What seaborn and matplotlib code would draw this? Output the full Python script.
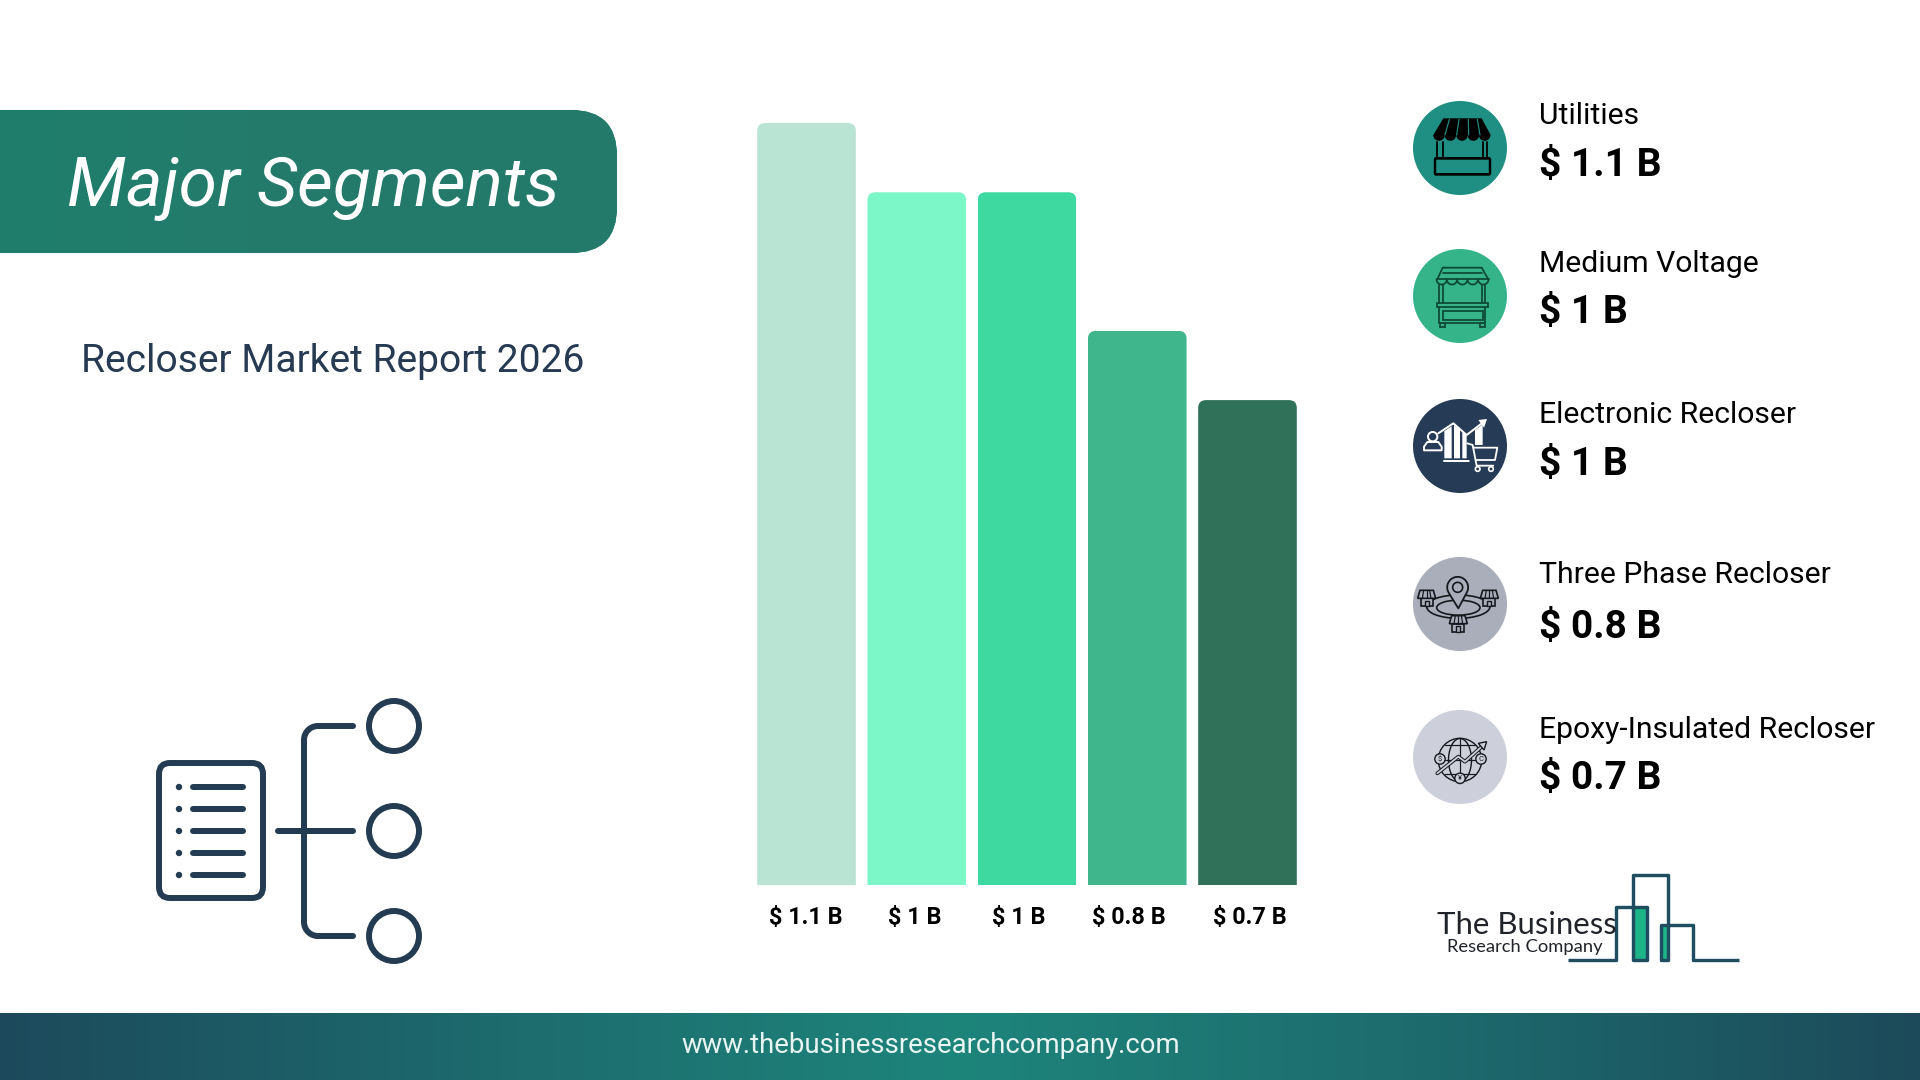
import numpy as np
import pandas as pd
import matplotlib
matplotlib.use("Agg")
import matplotlib.pyplot as plt
from matplotlib.patches import Circle, Ellipse, FancyBboxPatch, Polygon, Rectangle, Wedge
import seaborn as sns

# Chart data
segments = ["Utilities", "Medium Voltage", "Electronic Recloser", "Three Phase Recloser", "Epoxy-Insulated Recloser"]
values = [1.1, 1.0, 1.0, 0.8, 0.7]
value_labels = ["$ 1.1 B", "$ 1 B", "$ 1 B", "$ 0.8 B", "$ 0.7 B"]
bar_colors = ["#B9E4D4", "#7BF7C8", "#3DD9A0", "#3FB68B", "#2F7159"]
circle_colors = ["#1F8F84", "#35B489", "#263C56", "#A9AEBA", "#CDD0DA"]

NAVY = "#233C52"
LOGO = "#1E4E5F"

sns.set_theme(style="white")
plt.rcParams["font.family"] = ["Roboto", "DejaVu Sans"]

fig = plt.figure(figsize=(19.2, 10.8), dpi=100, facecolor="white")

# Background layer, coordinates are the pixels of the slide
bg = fig.add_axes([0, 0, 1, 1], zorder=0)
bg.set_xlim(0, 1920)
bg.set_ylim(1080, 0)
bg.axis("off")


def line(pts, color=NAVY, lw=6, cap="round", zorder=2):
    xs, ys = zip(*pts)
    bg.plot(xs, ys, color=color, lw=lw * 0.72, solid_capstyle=cap, solid_joinstyle="round", zorder=zorder)


def rbox(x, y, w, h, r, **kw):
    p = FancyBboxPatch((x, y), w, h, boxstyle=f"round,pad=0,rounding_size={r}", **kw)
    bg.add_patch(p)
    return p


def gradient(x0, x1, y0, y1, colors, clip=None):
    cmap = matplotlib.colors.LinearSegmentedColormap.from_list("g", colors)
    im = bg.imshow(np.linspace(0, 1, 256)[None, :], cmap=cmap, extent=(x0, x1, y1, y0), aspect="auto", zorder=1)
    if clip is not None:
        im.set_clip_path(clip)
    bg.set_xlim(0, 1920)
    bg.set_ylim(1080, 0)


def arc(cx, cy, r, a0, a1):
    a = np.radians(np.linspace(a0, a1, 20))
    return list(zip(cx + r * np.cos(a), cy + r * np.sin(a)))


def crop(x0, y0):
    return lambda x, y: (x0 + x / 3, y0 + y / 3)


# Title banner
banner = rbox(-80, 110, 697, 143, 46, fc="#237B6B", ec="none", zorder=1)
gradient(0, 620, 110, 253, ["#1F7F6C", "#247A6B", "#237A6A"], clip=banner)
bg.text(67, 206, "Major Segments", color="white", fontsize=50, style="italic", zorder=3)
bg.text(81, 372, "Recloser Market Report 2026", color="#263A52", fontsize=28.1)

# Footer
gradient(0, 1920, 1013, 1080, ["#1C4A5C", "#1D6A6D", "#1E857B", "#1D6A6D", "#1C4A5A"])
bg.text(931, 1053, "www.thebusinessresearchcompany.com", color="#E8F4F2", fontsize=19.8, ha="center", zorder=3)

# Document and tree icon
rbox(159, 763, 104, 135, 11, fc="none", ec=NAVY, lw=4.3)
for y in [787, 809, 831, 853, 875]:
    bg.add_patch(Circle((179, y), 3.2, fc=NAVY, ec="none"))
    line([(193, y), (243, y)])
line([(278, 831), (353, 831)])
line([(353, 726)] + arc(318, 740, 14, 270, 180) + arc(318, 922, 14, 180, 90) + [(353, 936)])
for y in [726, 831, 936]:
    bg.add_patch(Circle((394, y), 25, fc="none", ec=NAVY, lw=4.3))

# Bar chart
df = pd.DataFrame({"segment": segments, "value": values})
ax = fig.add_axes([751.4 / 1920, (1080 - 885) / 1080, 551.2 / 1920, 762 / 1080], zorder=2)
ax.patch.set_alpha(0)
sns.barplot(data=df, x="segment", y="value", hue="segment", palette=bar_colors, width=0.895,
            legend=False, saturation=1, ax=ax)
ax.set_xlim(-0.5, 4.5)
ax.set_ylim(0, 1.1)
sns.despine(ax=ax, left=True, bottom=True)
ax.set_xlabel("")
ax.set_ylabel("")
ax.set_yticks([])

# Labels do not sit exactly under the bars in the original
label_shift = [-1, -2, -8, -8, 2]
ax.set_xticks([i + s / 110.25 for i, s in enumerate(label_shift)])
ax.set_xticklabels(value_labels, fontsize=16.8, fontweight="bold", color="black")
ax.tick_params(axis="x", length=0, pad=15)

# Round the top corners of the bars
aspect = 110.25 / (762 / 1.1)
for bar in ax.patches:
    bar.set_linewidth(0)
    x, w, h = bar.get_x(), bar.get_width(), bar.get_height()
    clip = FancyBboxPatch((x, -0.1), w, h + 0.1, boxstyle=f"round,pad=0,rounding_size={8 / 110.25}",
                          mutation_aspect=aspect, transform=ax.transData)
    bar.set_clip_path(clip)

# Right column
circle_y = [148, 296, 446, 604, 757]
name_y = [124, 272, 423, 583, 738]
value_y = [176, 323, 475, 638, 789]
for seg, lab, col, cy, ny, vy in zip(segments, value_labels, circle_colors, circle_y, name_y, value_y):
    bg.add_patch(Circle((1460, cy), 47, fc=col, ec="none"))
    bg.text(1539, ny, seg, color="black", fontsize=21.7)
    bg.text(1539, vy, lab, color="black", fontsize=28, fontweight="bold")

# Icon 1, shop with solid awning
p = crop(1400, 80)
bg.add_patch(Polygon([p(130, 115), p(245, 115), p(272, 165), p(100, 165)], fc="black", ec="none", zorder=3))
for sx in [117, 151, 186, 220, 254]:
    bg.add_patch(Wedge(p(sx, 165), 5.8, 0, 180, fc="black", ec="none", zorder=3))
for sx0, sx1 in [(148, 135), (177, 170), (205, 206), (232, 240)]:
    line([p(sx0, 118), p(sx1, 165)], color="#1F8F84", lw=1.2, zorder=4)
for sx in [112, 128, 248, 262]:
    line([p(sx, 185), p(sx, 235)], color="black", lw=1.8)
bg.add_patch(rbox(*p(105, 235), 55, 16, 1, fc="none", ec="black", lw=1.6))

# Icon 2, outlined stall
G = "#0F4A35"
p = crop(1410, 240)
line([p(82, 118), p(98, 83), p(215, 83), p(235, 118)], color=G, lw=1.8)
line([p(98, 98), p(215, 98)], color=G, lw=1.8)
line([p(80, 118), p(237, 118)], color=G, lw=1.8)
for sx in [95, 126, 157, 188, 220]:
    line(arc(*p(sx, 118), 5.2, 0, 180), color=G, lw=1.8)
for sx in [88, 98, 215, 225]:
    line([p(sx, 135), p(sx, 190)], color=G, lw=1.8)
bg.add_patch(Rectangle(p(80, 190), 155 / 3, 12 / 3, fc="none", ec=G, lw=1.3))
bg.add_patch(Rectangle(p(98, 212), 120 / 3, 28 / 3, fc="none", ec=G, lw=1.3))
line([p(88, 202), p(88, 250), p(225, 250), p(225, 202)], color=G, lw=1.8)
for sx in [90, 210]:
    bg.add_patch(Rectangle(p(sx, 250), 14 / 3, 10 / 3, fc="none", ec=G, lw=1.3))

# Icon 3, chart, person and cart
W = "white"
D = circle_colors[2]
p = crop(1410, 395)
for pts in [[(103, 108), (125, 94), (125, 190), (103, 190)],
            [(132, 90), (150, 104), (150, 190), (132, 190)],
            [(157, 110), (170, 120), (170, 190), (157, 190)],
            [(195, 105), (218, 88), (218, 150), (195, 150)]]:
    bg.add_patch(Polygon([p(*q) for q in pts], fc=W, ec="none", zorder=2))
line([p(85, 115), p(130, 85), p(170, 120), p(222, 80)], color=W, lw=2)
bg.add_patch(Polygon([p(205, 75), p(231, 72), p(222, 98)], fc=W, ec="none", zorder=3))
line([p(102, 197), p(188, 197)], color=W, lw=2)
bg.add_patch(Circle(p(68, 125), 4.7, fc="none", ec=W, lw=1.4))
bg.add_patch(Polygon([p(42, 166), p(42, 155), p(52, 141), p(85, 141), p(95, 155), p(95, 166)],
                     fc="none", ec=W, lw=1.4, joinstyle="round"))
bg.add_patch(Polygon([p(172, 145), p(190, 150), p(190, 158), p(262, 158), p(255, 195), p(197, 195), p(200, 212),
                      p(180, 212)], fc=D, ec="none", zorder=3))
line([p(172, 145), p(188, 150), p(200, 212), p(250, 212)], color=W, lw=1.8, zorder=4)
line([p(190, 158), p(262, 158), p(255, 195), p(197, 195)], color=W, lw=1.8, zorder=4)
for sx in [203, 243]:
    bg.add_patch(Circle(p(sx, 222), 2.3, fc="none", ec=W, lw=1.2, zorder=4))

# Icon 4, pin and three shops
K = "#15181F"
S = circle_colors[3]
p = crop(1410, 555)
bg.add_patch(Ellipse(p(145, 158), 130 / 3, 45 / 3, fc="none", ec=K, lw=1.2))
bg.add_patch(Ellipse(p(145, 155), 190 / 3, 70 / 3, fc="none", ec=K, lw=1.2))
cx, cy = p(143, 97)
pin = arc(cx, cy, 10.5, 150, 390) + [p(145, 160)]
bg.add_patch(Polygon(pin, fc=S, ec=K, lw=1.3, zorder=3, joinstyle="round"))
bg.add_patch(Circle((cx, cy), 5, fc="none", ec=K, lw=1.2, zorder=4))
for sx, top in [(50, 106), (238, 106), (145, 182)]:
    bg.add_patch(Rectangle(p(sx - 18, top + 24), 12, 8, fc=S, ec=K, lw=1.2, zorder=4))
    bg.add_patch(Rectangle(p(sx - 6, top + 32), 4, 16 / 3, fc=S, ec=K, lw=1.0, zorder=4))
    bg.add_patch(Polygon([p(sx - 20, top), p(sx + 20, top), p(sx + 27, top + 24), p(sx - 27, top + 24)],
                         fc=S, ec=K, lw=1.2, zorder=4))
    for dx0, dx1 in [(-9, -13), (0, 0), (9, 13)]:
        line([p(sx + dx0, top), p(sx + dx1, top + 24)], color=K, lw=1.2, zorder=5)

# Icon 5, globe with arrow
L = circle_colors[4]
p = crop(1410, 705)
bg.add_patch(Circle(p(150, 165), 21.7, fc="none", ec=K, lw=1.0))
bg.add_patch(Ellipse(p(150, 165), 23, 43, fc="none", ec=K, lw=1.0))
line([p(150, 100), p(150, 230)], color=K, lw=1.2)
line([p(85, 165), p(215, 165)], color=K, lw=1.2)
line([p(105, 120), p(195, 120)], color=K, lw=1.2)
line([p(105, 208), p(195, 208)], color=K, lw=1.2)
arrow = [p(82, 205), p(145, 155), p(165, 170), p(215, 125)]
line(arrow, color=K, lw=3.8, zorder=3)
line(arrow, color=L, lw=1.8, zorder=4)
bg.add_patch(Polygon([p(205, 115), p(230, 110), p(222, 135)], fc=L, ec=K, lw=1.0, zorder=5))
for sx, sy, sym in [(90, 162, "$"), (213, 162, "C"), (150, 220, "¥")]:
    bg.add_patch(Circle(p(sx, sy), 5.2, fc=L, ec=K, lw=1.0, zorder=5))
    bg.text(*p(sx, sy), sym, fontsize=5.5, color=K, ha="center", va="center", zorder=6)

# Logo
bg.text(1437, 934, "The Business", color="#20242A", fontsize=22.4, family="Lato")
bg.text(1447, 952, "Research Company", color="#20242A", fontsize=13.2, family="Lato")
p = crop(1400, 530)
bg.add_patch(Rectangle(p(698, 1130), 44 / 3, 161 / 3, fc="#1DB587", ec="none"))
bg.add_patch(Rectangle(p(782, 1185), 23 / 3, 106 / 3, fc="#1DB587", ec="none"))
logo_path = [(505, 1291), (648, 1291), (648, 1130), (742, 1130), (742, 1291), (698, 1291), (698, 1035),
             (805, 1035), (805, 1291), (782, 1291), (782, 1185), (878, 1185), (878, 1291), (1018, 1291)]
line([p(x, y) for x, y in logo_path], color=LOGO, lw=3.4, cap="butt")

fig.savefig("out.png", dpi=100)
